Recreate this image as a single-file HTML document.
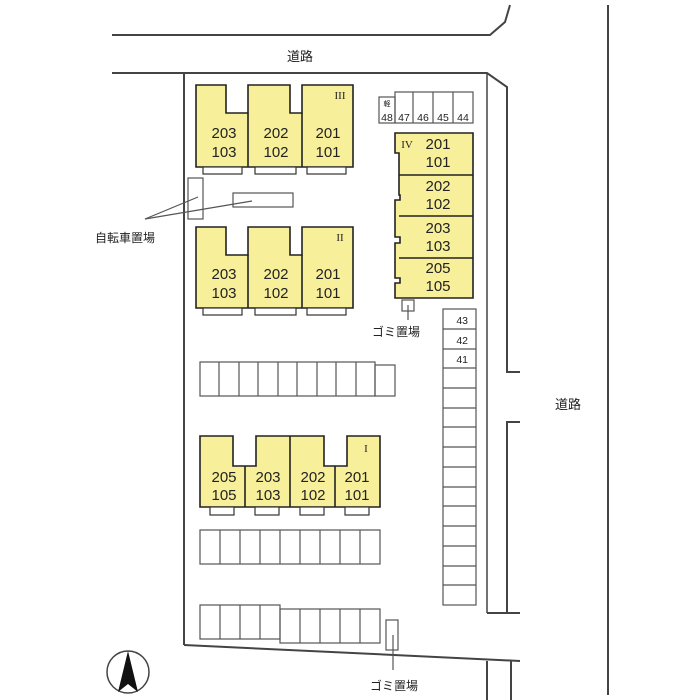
<!DOCTYPE html>
<html><head><meta charset="utf-8"><style>
html,body{margin:0;padding:0;background:#fff;}
svg{display:block;}
text{font-family:"Liberation Sans","Noto Sans CJK JP",sans-serif;fill:#222;}
</style></head><body>
<svg width="700" height="700" viewBox="0 0 700 700" xmlns="http://www.w3.org/2000/svg">
<g fill="none" stroke="#444" stroke-width="2">
<!-- top road -->
<polyline points="112,35 490,35 505,22 510,5"/>
<polyline points="112,73 487,73 507,87 507,372 520,372"/>
<polyline points="520,422 507,422 507,613 520,613"/>
<line x1="487" y1="73" x2="487" y2="613" stroke-width="1.5"/>
<line x1="487" y1="613" x2="507" y2="613"/>
<line x1="608" y1="5" x2="608" y2="695"/>
<line x1="184" y1="73" x2="184" y2="645"/>
<line x1="184" y1="645" x2="520" y2="661"/>
<line x1="487" y1="661" x2="487" y2="700"/>
<line x1="511" y1="661" x2="511" y2="700"/>
</g>
<text x="300" y="61" font-size="13" text-anchor="middle">道路</text>
<text x="568" y="409" font-size="13" text-anchor="middle">道路</text>

<g stroke="#222" stroke-width="1.6" fill="#f7ef9a">
<!-- Building III -->
<path d="M196,85 H226 V113 H248 V85 H290 V113 H302 V85 H353 V167 H196 Z"/>
<line x1="248" y1="113" x2="248" y2="167"/><line x1="302" y1="113" x2="302" y2="167"/>
<!-- Building II -->
<path d="M196,227 H226 V255 H248 V227 H290 V255 H302 V227 H353 V308 H196 Z"/>
<line x1="248" y1="255" x2="248" y2="308"/><line x1="302" y1="255" x2="302" y2="308"/>
<!-- Building IV -->
<path d="M395,133 H473 V298 H395 V283 H400 V278 H395 V243 H400 V237 H395 V200 H400 V195 H399 V153 H395 Z"/>
<line x1="399" y1="175" x2="473" y2="175"/><line x1="399" y1="216" x2="473" y2="216"/><line x1="399" y1="258" x2="473" y2="258"/>
<!-- Building I -->
<path d="M200,436 H233 V466 H256 V436 H324 V466 H347 V436 H380 V507 H200 Z"/>
<line x1="245" y1="466" x2="245" y2="507"/><line x1="290" y1="436" x2="290" y2="507"/><line x1="335" y1="466" x2="335" y2="507"/>
</g>
<g stroke="#333" stroke-width="1.2" fill="#fff">
<rect x="203" y="167" width="39" height="7"/><rect x="255" y="167" width="41" height="7"/><rect x="307" y="167" width="39" height="7"/>
<rect x="203" y="308" width="39" height="7"/><rect x="255" y="308" width="41" height="7"/><rect x="307" y="308" width="39" height="7"/>
<rect x="210" y="507" width="24" height="8"/><rect x="255" y="507" width="24" height="8"/><rect x="300" y="507" width="24" height="8"/><rect x="345" y="507" width="24" height="8"/>
</g>
<g font-size="15" text-anchor="middle">
<text x="224" y="138">203</text><text x="224" y="157">103</text>
<text x="276" y="138">202</text><text x="276" y="157">102</text>
<text x="328" y="138">201</text><text x="328" y="157">101</text>
<text x="224" y="279">203</text><text x="224" y="298">103</text>
<text x="276" y="279">202</text><text x="276" y="298">102</text>
<text x="328" y="279">201</text><text x="328" y="298">101</text>
<text x="438" y="149">201</text><text x="438" y="167">101</text>
<text x="438" y="191">202</text><text x="438" y="209">102</text>
<text x="438" y="233">203</text><text x="438" y="251">103</text>
<text x="438" y="273">205</text><text x="438" y="291">105</text>
<text x="224" y="482">205</text><text x="224" y="500">105</text>
<text x="268" y="482">203</text><text x="268" y="500">103</text>
<text x="313" y="482">202</text><text x="313" y="500">102</text>
<text x="357" y="482">201</text><text x="357" y="500">101</text>
</g>
<g font-size="11" font-family="Liberation Serif,serif" text-anchor="middle">
<text x="340" y="99" style="font-family:'Liberation Serif',serif">III</text>
<text x="340" y="241" style="font-family:'Liberation Serif',serif">II</text>
<text x="407" y="148" style="font-family:'Liberation Serif',serif">IV</text>
<text x="366" y="452" style="font-family:'Liberation Serif',serif">I</text>
</g>

<!-- parking & misc -->
<g stroke="#555" stroke-width="1.2" fill="none">
<rect x="379" y="97" width="16" height="26"/>
<rect x="395" y="92" width="78" height="31"/>
<line x1="413" y1="92" x2="413" y2="123"/><line x1="433" y1="92" x2="433" y2="123"/><line x1="453" y1="92" x2="453" y2="123"/>
<rect x="443" y="309" width="33" height="296"/>
<line x1="443" y1="329" x2="476" y2="329"/><line x1="443" y1="349" x2="476" y2="349"/><line x1="443" y1="368" x2="476" y2="368"/>
<line x1="443" y1="388" x2="476" y2="388"/><line x1="443" y1="408" x2="476" y2="408"/><line x1="443" y1="427" x2="476" y2="427"/>
<line x1="443" y1="447" x2="476" y2="447"/><line x1="443" y1="467" x2="476" y2="467"/><line x1="443" y1="487" x2="476" y2="487"/>
<line x1="443" y1="506" x2="476" y2="506"/><line x1="443" y1="526" x2="476" y2="526"/><line x1="443" y1="546" x2="476" y2="546"/>
<line x1="443" y1="566" x2="476" y2="566"/><line x1="443" y1="585" x2="476" y2="585"/>
<!-- row 1 -->
<rect x="200" y="362" width="175" height="34"/>
<line x1="219" y1="362" x2="219" y2="396"/><line x1="239" y1="362" x2="239" y2="396"/><line x1="258" y1="362" x2="258" y2="396"/>
<line x1="278" y1="362" x2="278" y2="396"/><line x1="297" y1="362" x2="297" y2="396"/><line x1="317" y1="362" x2="317" y2="396"/>
<line x1="336" y1="362" x2="336" y2="396"/><line x1="356" y1="362" x2="356" y2="396"/>
<rect x="375" y="365" width="20" height="31"/>
<!-- row 2 -->
<rect x="200" y="530" width="180" height="34"/>
<line x1="220" y1="530" x2="220" y2="564"/><line x1="240" y1="530" x2="240" y2="564"/><line x1="260" y1="530" x2="260" y2="564"/>
<line x1="280" y1="530" x2="280" y2="564"/><line x1="300" y1="530" x2="300" y2="564"/><line x1="320" y1="530" x2="320" y2="564"/>
<line x1="340" y1="530" x2="340" y2="564"/><line x1="360" y1="530" x2="360" y2="564"/>
<!-- row 3 -->
<rect x="200" y="605" width="80" height="34"/>
<line x1="220" y1="605" x2="220" y2="639"/><line x1="240" y1="605" x2="240" y2="639"/><line x1="260" y1="605" x2="260" y2="639"/>
<rect x="280" y="609" width="100" height="34"/>
<line x1="300" y1="609" x2="300" y2="643"/><line x1="320" y1="609" x2="320" y2="643"/><line x1="340" y1="609" x2="340" y2="643"/><line x1="360" y1="609" x2="360" y2="643"/>
<!-- bike -->
<rect x="188" y="178" width="15" height="41"/>
<rect x="233" y="193" width="60" height="14"/>
<line x1="145" y1="219" x2="198" y2="197"/><line x1="145" y1="219" x2="252" y2="201"/>
<!-- gomi -->
<rect x="402" y="300" width="12" height="11"/><line x1="408" y1="305" x2="408" y2="320"/>
<rect x="386" y="620" width="12" height="30"/><line x1="393" y1="635" x2="393" y2="670"/>
</g>
<g font-size="10.5" text-anchor="middle">
<text x="387" y="121">48</text><text x="404" y="121">47</text><text x="423" y="121">46</text><text x="443" y="121">45</text><text x="463" y="121">44</text>
<text x="387" y="106" font-size="7">軽</text>
<text x="468" y="324" text-anchor="end">43</text><text x="468" y="344" text-anchor="end">42</text><text x="468" y="363" text-anchor="end">41</text>
</g>
<text x="396" y="336" font-size="12" text-anchor="middle">ゴミ置場</text>
<text x="394" y="690" font-size="12" text-anchor="middle">ゴミ置場</text>
<text x="125" y="242" font-size="12" text-anchor="middle">自転車置場</text>
<!-- north -->
<circle cx="128" cy="672" r="21" fill="none" stroke="#444" stroke-width="1.5"/>
<polygon points="128,651 138,692 128,684 118,692" fill="#111"/>
</svg>
</body></html>
